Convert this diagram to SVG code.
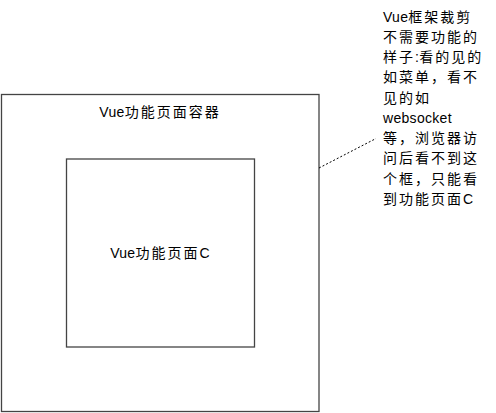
<svg xmlns="http://www.w3.org/2000/svg" width="496" height="413" viewBox="0 0 496 413">
<style>
.box{fill:#fff;stroke:#444;stroke-width:1.3}
.t{font-family:"Liberation Sans","Noto Sans CJK SC",sans-serif;font-size:14px;fill:#000;letter-spacing:2px}
.l{letter-spacing:0.3px}
.conn{fill:none;stroke:#000;stroke-width:1;stroke-dasharray:2,2}
</style>
<rect width="496" height="413" fill="#fff"/>
<g id="outer">
<rect class="box" x="1.5" y="94.5" width="317.5" height="317"/>
<text class="t" x="160" y="117" text-anchor="middle"><tspan class="l">Vue</tspan>功能页面容器</text>
</g>
<g id="inner">
<rect class="box" x="66.5" y="159" width="188" height="188"/>
<text class="t" x="160" y="258" text-anchor="middle"><tspan class="l">Vue</tspan>功能页面<tspan class="l">C</tspan></text>
</g>
<g id="note">
<text class="t">
<tspan x="383" y="21.5" class="l">Vue</tspan><tspan>框架裁剪</tspan>
<tspan x="383" y="41.8">不需要功能的</tspan>
<tspan x="383" y="62">样子</tspan><tspan class="l">:</tspan><tspan>看的见的</tspan>
<tspan x="383" y="82.3">如菜单，看不</tspan>
<tspan x="383" y="102.5">见的如</tspan>
<tspan x="383" y="122.8" class="l">websocket</tspan>
<tspan x="383" y="143">等，浏览器访</tspan>
<tspan x="383" y="163.3">问后看不到这</tspan>
<tspan x="383" y="183.6">个框，只能看</tspan>
<tspan x="383" y="203.9">到功能页面</tspan><tspan class="l">C</tspan>
</text>
</g>
<g id="connectors">
<line class="conn" x1="319" y1="168" x2="376" y2="138.5"/>
</g>
</svg>
